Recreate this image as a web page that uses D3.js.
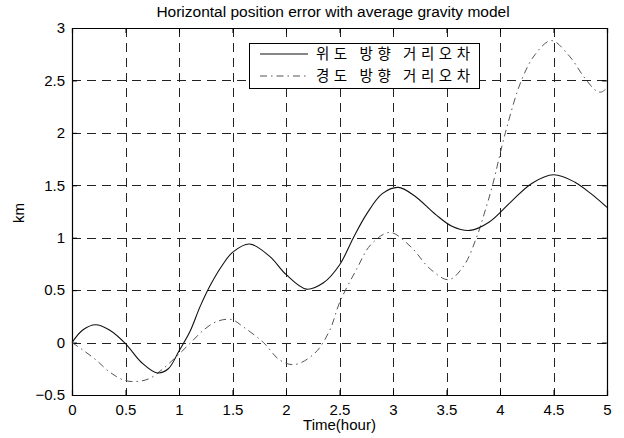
<!DOCTYPE html>
<html><head><meta charset="utf-8">
<script src="https://cdn.jsdelivr.net/npm/d3@7"></script>
<style>
html,body{margin:0;padding:0;background:#fff;}
svg{display:block;font-family:"Liberation Sans",Arial,sans-serif;}
</style></head>
<body><svg id="c" width="624" height="438"></svg>
<script>
const title = "Horizontal position error with average gravity model";
const xLabel = "Time(hour)";
const yLabel = "km";
const seriesNames = ["위도 방향 거리오차", "경도 방향 거리오차"];
const xTicks = [0, 0.5, 1, 1.5, 2, 2.5, 3, 3.5, 4, 4.5, 5];
const yTicks = [-0.5, 0, 0.5, 1, 1.5, 2, 2.5, 3];

const latT = [0, 0.1, 0.22, 0.35, 0.5, 0.65, 0.8, 0.9, 1.0, 1.1, 1.2, 1.3, 1.4, 1.5, 1.66, 1.85, 2.0, 2.19, 2.35, 2.5, 2.63, 2.75, 2.9, 3.05, 3.2, 3.4, 3.55, 3.72, 3.9, 4.1, 4.3, 4.5, 4.7, 4.85, 5.0];
const latV = [0, 0.12, 0.17, 0.12, -0.01, -0.19, -0.29, -0.25, -0.08, 0.1, 0.35, 0.56, 0.73, 0.86, 0.94, 0.82, 0.65, 0.51, 0.57, 0.74, 1.0, 1.22, 1.42, 1.48, 1.40, 1.22, 1.11, 1.07, 1.15, 1.34, 1.52, 1.60, 1.53, 1.42, 1.29];

const lonT = [0, 0.1, 0.23, 0.35, 0.49, 0.62, 0.73, 0.85, 0.99, 1.12, 1.23, 1.35, 1.49, 1.6, 1.79, 1.94, 2.08, 2.27, 2.41, 2.5, 2.66, 2.79, 2.97, 3.16, 3.35, 3.52, 3.66, 3.78, 3.85, 3.93, 4.05, 4.2, 4.33, 4.48, 4.65, 4.78, 4.9, 4.95, 5.0];
const lonV = [0, -0.07, -0.17, -0.28, -0.36, -0.37, -0.34, -0.25, -0.12, 0.01, 0.12, 0.20, 0.22, 0.15, 0.0, -0.165, -0.21, -0.10, 0.12, 0.38, 0.70, 0.93, 1.05, 0.92, 0.70, 0.60, 0.73, 1.0, 1.22, 1.5, 2.0, 2.5, 2.75, 2.88, 2.73, 2.54, 2.40, 2.39, 2.43];

const svg = d3.select("#c");
const L = 72, R = 607, T = 28, B = 395;
const x = d3.scaleLinear().domain([0, 5]).range([L, R]);
const y = d3.scaleLinear().domain([-0.5, 3]).range([B, T]);

// grid
const grid = svg.append("g").attr("stroke", "#222").attr("stroke-width", 1).attr("stroke-dasharray", "9,6");
grid.selectAll("line.v").data(xTicks.slice(1, -1)).join("line")
  .attr("x1", d => Math.round(x(d)) + 0.5).attr("x2", d => Math.round(x(d)) + 0.5)
  .attr("y1", T).attr("y2", B);
grid.selectAll("line.h").data(yTicks.slice(1, -1)).join("line")
  .attr("y1", d => Math.round(y(d)) + 0.5).attr("y2", d => Math.round(y(d)) + 0.5)
  .attr("x1", L).attr("x2", R);

// axes
svg.append("g").attr("transform", `translate(0,${B})`)
  .call(d3.axisBottom(x).tickValues(xTicks).tickSize(-5).tickPadding(9).tickFormat(d3.format("")));
svg.append("g").attr("transform", `translate(${L},0)`)
  .call(d3.axisLeft(y).tickValues(yTicks).tickSize(-5).tickPadding(7).tickFormat(d3.format("")));
svg.append("g").attr("transform", `translate(0,${T})`)
  .call(d3.axisTop(x).tickValues(xTicks).tickSize(-5).tickFormat(""));
svg.append("g").attr("transform", `translate(${R},0)`)
  .call(d3.axisRight(y).tickValues(yTicks).tickSize(-5).tickFormat(""));
svg.selectAll(".domain").attr("stroke", "#000").attr("stroke-width", 1.2);
svg.selectAll(".tick line").attr("stroke", "#000");
svg.selectAll(".tick text").attr("font-size", 15).attr("fill", "#000").attr("font-family", "Liberation Sans, Arial, sans-serif");

// lines
const line = d3.line().x(d => x(d[0])).y(d => y(d[1])).curve(d3.curveCatmullRom.alpha(0.5));
const latData = latT.map((t, i) => [t, latV[i]]);
const lonData = lonT.map((t, i) => [t, lonV[i]]);
svg.append("path").datum(lonData).attr("d", line).attr("fill", "none")
  .attr("stroke", "#555").attr("stroke-width", 1).attr("stroke-dasharray", "7,4,1.5,4");
svg.append("path").datum(latData).attr("d", line).attr("fill", "none")
  .attr("stroke", "#111").attr("stroke-width", 1.1);

// legend
const lg = svg.append("g");
lg.append("rect").attr("x", 249.5).attr("y", 43.5).attr("width", 230).attr("height", 45)
  .attr("fill", "#fff").attr("stroke", "#000").attr("stroke-width", 1);
const rows = [{y: 54, dash: null, col: "#111"}, {y: 76, dash: "7,4,1.5,4", col: "#555"}];
rows.forEach((r, i) => {
  const l = lg.append("line").attr("x1", 260).attr("x2", 308).attr("y1", r.y).attr("y2", r.y)
    .attr("stroke", r.col).attr("stroke-width", 1.1);
  if (r.dash) l.attr("stroke-dasharray", r.dash);
  lg.append("text").attr("x", 316).attr("y", r.y + 5).text(seriesNames[i])
    .attr("font-family", "Noto Sans CJK KR, sans-serif").attr("font-size", 14.5)
    .attr("textLength", 154).attr("lengthAdjust", "spacing").attr("fill", "#000");
});

// labels
svg.append("text").attr("x", 333).attr("y", 17).attr("text-anchor", "middle")
  .attr("font-size", 15.5).text(title);
svg.append("text").attr("x", (L + R) / 2).attr("y", 430).attr("text-anchor", "middle")
  .attr("font-size", 15).text(xLabel);
svg.append("text").attr("transform", "translate(24,213) rotate(-90)").attr("text-anchor", "middle")
  .attr("font-size", 15).text(yLabel);
</script></body></html>
